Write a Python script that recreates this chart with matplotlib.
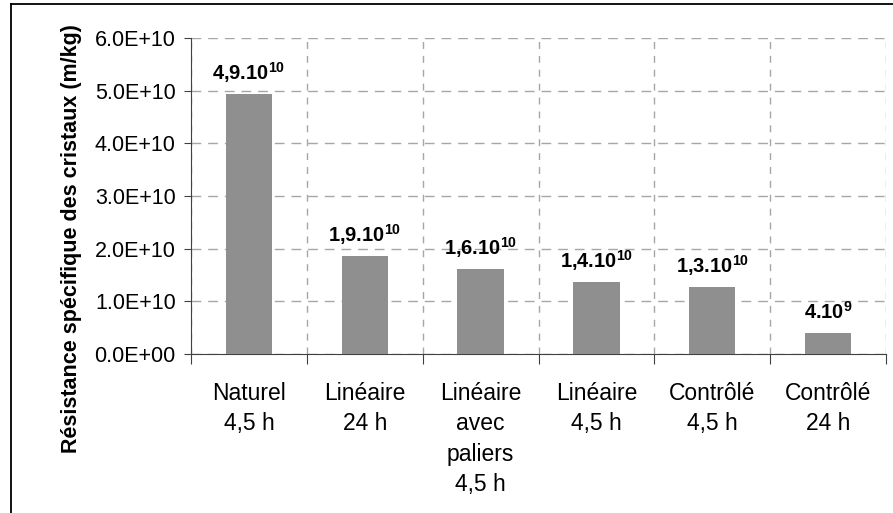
import numpy as np
import matplotlib
matplotlib.use('Agg')
import matplotlib.pyplot as plt
from matplotlib.lines import Line2D
from matplotlib.ticker import FuncFormatter

# data
categories = ['Naturel\n4,5 h', 'Linéaire\n24 h', 'Linéaire\navec\npaliers\n4,5 h',
              'Linéaire\n4,5 h', 'Contrôlé\n4,5 h', 'Contrôlé\n24 h']
values = [4.94e10, 1.86e10, 1.61e10, 1.37e10, 1.27e10, 0.40e10]
bar_labels = [r'4,9.10$^{\mathbf{10}}$', r'1,9.10$^{\mathbf{10}}$', r'1,6.10$^{\mathbf{10}}$',
              r'1,4.10$^{\mathbf{10}}$', r'1,3.10$^{\mathbf{10}}$', r'4.10$^{\mathbf{9}}$']
yticks = [0, 1e10, 2e10, 3e10, 4e10, 5e10, 6e10]

plt.rcParams['font.family'] = 'Liberation Sans'
plt.rcParams['mathtext.fontset'] = 'custom'
plt.rcParams['mathtext.rm'] = 'Liberation Sans:bold'
plt.rcParams['mathtext.bf'] = 'Liberation Sans:bold'

fig = plt.figure(figsize=(8.93, 5.13), dpi=100)
ax = fig.add_axes([191/893, 1-354/513, 695/893, 316/513])

x = np.arange(len(values))
ax.bar(x, values, width=0.4, color='#8f8f8f', zorder=3)

for xi, v, lab in zip(x, values, bar_labels):
    ax.text(xi, v + 0.27e10, lab, ha='center', va='baseline', fontsize=14.5,
            fontweight='bold', zorder=4)

ax.set_xlim(-0.5, len(values) - 0.5)
ax.set_ylim(0, 6e10)
ax.set_yticks(yticks)
ax.yaxis.set_major_formatter(FuncFormatter(lambda v, p: '%.1E' % v))

# boundaries carry the ticks and grid, centres carry the labels
ax.set_xticks(np.arange(len(values) + 1) - 0.5)
ax.set_xticklabels([])
ax.set_xticks(x, minor=True)
ax.set_xticklabels(categories, minor=True, fontsize=16.5, linespacing=1.41, va='top')
ax.tick_params(axis='x', which='minor', length=0, pad=20)
ax.tick_params(axis='x', which='major', length=7, color='#404040', direction='out')
ax.tick_params(axis='y', length=5, color='#404040', labelsize=15.5, pad=6)

ax.yaxis.grid(True, color='#a6a6a6', linestyle=(0, (7, 5)), linewidth=1, zorder=0)
ax.xaxis.grid(True, which='major', color='#a6a6a6', linestyle=(0, (5, 5)), linewidth=1, zorder=0)
ax.set_axisbelow(True)

ax.spines['top'].set_visible(False)
ax.spines['right'].set_visible(False)
ax.spines['left'].set_color('#404040')
ax.spines['bottom'].set_color('#404040')

ax.set_ylabel('Résistance spécifique des cristaux (m/kg)', fontsize=15.5,
              fontweight='bold')
ax.yaxis.set_label_coords(-0.157, 0.364)

# outer frame, only left and top edges fall inside the picture
fig.add_artist(Line2D([11/893, 11/893], [0, 1-4/513], transform=fig.transFigure,
                      color='black', linewidth=1.3))
fig.add_artist(Line2D([11/893, 1], [1-4/513, 1-4/513], transform=fig.transFigure,
                      color='black', linewidth=1.3))

fig.savefig('out.png', dpi=100)
